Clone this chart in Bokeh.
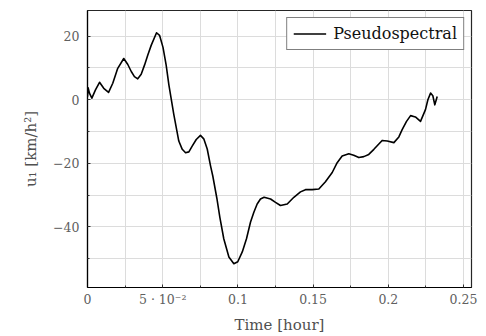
from bokeh.plotting import figure
from bokeh.models import Range1d, FixedTicker, CustomJSTickFormatter, Legend, LegendItem
from bokeh.embed import file_html
from bokeh.resources import INLINE

# Data
time_hour = [0.0, 0.0004, 0.0013, 0.0029, 0.0053, 0.0080, 0.0108, 0.0140, 0.0168, 0.0201,
             0.0241, 0.0268, 0.0291, 0.0312, 0.0334, 0.0357, 0.0379, 0.0401, 0.0424, 0.0459,
             0.0479, 0.0502, 0.0523, 0.0541, 0.0574, 0.0607, 0.0630, 0.0652, 0.0674, 0.0696,
             0.0723, 0.0751, 0.0773, 0.0796, 0.0818, 0.0833, 0.0860, 0.0880, 0.0906, 0.0940,
             0.0973, 0.0999, 0.1029, 0.1057, 0.1084, 0.1106, 0.1128, 0.1150, 0.1174, 0.1217,
             0.1250, 0.1283, 0.1328, 0.1372, 0.1416, 0.1449, 0.1494, 0.1538, 0.1582, 0.1627,
             0.1660, 0.1693, 0.1737, 0.1770, 0.1804, 0.1837, 0.1870, 0.1904, 0.1959, 0.1993,
             0.2037, 0.2070, 0.2092, 0.2121, 0.2148, 0.2180, 0.2214, 0.2247, 0.2263, 0.2281,
             0.2296, 0.2309, 0.2325]
u1 = [1.0, 3.8, 2.1, 0.5, 3.1, 5.5, 3.6, 2.3, 5.2, 9.9,
      13.0, 11.1, 8.9, 7.3, 6.6, 8.0, 10.9, 14.1, 17.2, 21.1,
      20.3, 16.5, 10.9, 4.7, -4.7, -13.0, -15.6, -16.7, -16.4, -14.6,
      -12.5, -11.2, -12.3, -15.5, -20.8, -24.0, -31.0, -37.0, -43.75, -49.5,
      -51.6, -51.0, -47.9, -43.75, -38.5, -35.4, -32.8, -31.25, -30.7, -31.25,
      -32.3, -33.3, -32.8, -30.7, -29.0, -28.3, -28.3, -28.1, -25.8, -22.9,
      -19.8, -17.7, -17.0, -17.5, -18.2, -17.9, -17.2, -15.6, -12.8, -13.0,
      -13.5, -11.7, -9.4, -6.8, -5.0, -5.4, -6.8, -3.1, 0.0, 2.1,
      1.25, -1.6, 1.0]

x_tick_values = [0.0, 0.05, 0.1, 0.15, 0.2, 0.25]
x_tick_labels = ["0", "5 · 10⁻²", "0.1", "0.15", "0.2", "0.25"]
x_minor_values = [0.025, 0.075, 0.125, 0.175, 0.225]
y_tick_values = [-40, -20, 0, 20]
y_tick_labels = ["−40", "−20", "0", "20"]
y_minor_values = [-50, -30, -10, 10]
series_name = "Pseudospectral"

FONT = "DejaVu Serif"

p = figure(width=486, height=336, output_backend="svg", toolbar_location=None,
           x_range=Range1d(0, 0.2553), y_range=Range1d(-59.1, 28.1),
           min_border_left=87, min_border_right=15, min_border_top=10, min_border_bottom=47)
p.background_fill_color = "white"
p.border_fill_color = "white"
p.outline_line_color = "black"
p.outline_line_width = 1.2
p.outline_line_alpha = 0.85

fmt_js = """
let best = 0; let bd = 1e9;
for (let i = 0; i < vals.length; i++) { const d = Math.abs(vals[i] - tick); if (d < bd) { bd = d; best = i; } }
return labs[best];
"""
p.xaxis.ticker = FixedTicker(ticks=x_tick_values, minor_ticks=x_minor_values)
p.xaxis.formatter = CustomJSTickFormatter(args=dict(vals=x_tick_values, labs=x_tick_labels), code=fmt_js)
p.yaxis.ticker = FixedTicker(ticks=y_tick_values, minor_ticks=y_minor_values)
p.yaxis.formatter = CustomJSTickFormatter(args=dict(vals=y_tick_values, labs=y_tick_labels), code=fmt_js)

p.xgrid.ticker = FixedTicker(ticks=sorted(x_tick_values + x_minor_values))
p.ygrid.ticker = FixedTicker(ticks=sorted(y_tick_values + y_minor_values))
for g in (p.xgrid, p.ygrid):
    g.grid_line_color = "#dcdcdc"
    g.grid_line_width = 1

for ax in (p.xaxis, p.yaxis):
    ax.axis_line_color = "black"
    ax.axis_line_width = 1.2
    ax.major_tick_in = 3
    ax.major_tick_out = 0
    ax.minor_tick_in = 2
    ax.minor_tick_out = 0
    ax.major_tick_line_color = "#333333"
    ax.minor_tick_line_color = "#333333"
    ax.major_label_text_font = FONT
    ax.major_label_text_font_size = "12.5px"
    ax.major_label_text_color = "#606060"
    ax.axis_label_text_font = FONT
    ax.axis_label_text_font_style = "normal"
    ax.axis_label_text_font_size = "15px"
    ax.axis_label_text_color = "#505050"

p.xaxis.major_label_standoff = 4
p.xaxis.axis_label = "Time [hour]"
p.xaxis.axis_label_standoff = 6
p.yaxis.major_label_standoff = 8
p.yaxis.axis_label = "u₁ [km/h²]"
p.yaxis.axis_label_standoff = 10

r = p.line(time_hour, u1, line_color="black", line_width=1.6, line_join="round")

legend = Legend(items=[LegendItem(label=series_name, renderers=[r])], location="top_right")
legend.margin = 7
legend.padding = 6
legend.spacing = 0
legend.border_line_color = "black"
legend.border_line_width = 1.3
legend.background_fill_alpha = 1
legend.glyph_width = 33
legend.glyph_height = 15
legend.label_height = 15
legend.label_standoff = 7
legend.label_text_font = FONT
legend.label_text_font_size = "16px"
legend.label_text_color = "#111111"
p.add_layout(legend)

open("out.html", "w").write(file_html(p, INLINE))
